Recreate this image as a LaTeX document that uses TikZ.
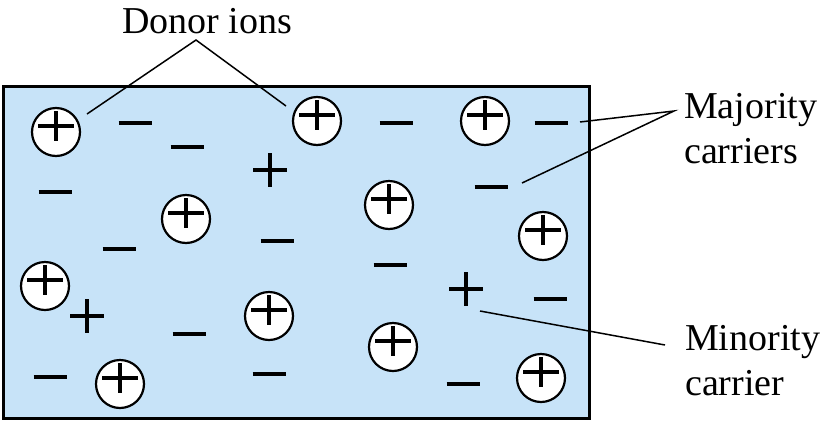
\documentclass[tikz,border=0pt]{standalone}
\usepackage{fontspec}
\setmainfont{Liberation Serif}
\definecolor{boxblue}{RGB}{199,227,248}
\tikzset{
  frame/.style={draw=black, line width=3pt, fill=boxblue},
  leader/.style={draw=black, line width=1.5pt},
  lbl/.style={font=\fontsize{38}{45}\selectfont, inner sep=0pt, align=left},
  neg/.pic={\draw[line width=3.6pt] (-16.5,0) -- (16.5,0);},
  hole/.pic={\draw[line width=3.6pt] (-17,0) -- (17,0) (0,-17) -- (0,17);},
  donor/.pic={\draw[line width=2.2pt, fill=white] (0,0) circle[radius=24];
              \draw[line width=3.4pt] (-18,-6) -- (18,-6) (0,-21) -- (0,9);}
}
\begin{document}
\begin{tikzpicture}[x=1pt,y=-1pt]
\useasboundingbox (0,0) rectangle (827,421);
\draw[frame] (3.5,86) rectangle (589.5,418.5);
% donor ions
\pic at (56,132) {donor};
\pic at (317,121) {donor};
\pic at (485,121) {donor};
\pic at (389,205) {donor};
\pic at (186,219) {donor};
\pic at (45,286) {donor};
\pic at (269,316) {donor};
\pic at (120,384) {donor};
\pic at (393,347) {donor};
\pic at (543,236) {donor};
\pic at (541,378) {donor};
% majority carriers (electrons)
\pic at (135,123) {neg};
\pic at (187,147) {neg};
\pic at (55,192) {neg};
\pic at (396,123) {neg};
\pic at (551,123) {neg};
\pic at (491,187) {neg};
\pic at (119,249) {neg};
\pic at (277,241) {neg};
\pic at (390,265) {neg};
\pic at (189,334) {neg};
\pic at (269,374) {neg};
\pic at (50,377) {neg};
\pic at (550,299) {neg};
\pic at (463,384) {neg};
% minority carriers (holes)
\pic at (270,170) {hole};
\pic at (87,316) {hole};
\pic at (466,289) {hole};
% labels
\node[lbl, anchor=base] (donorlbl) at (207,33) {Donor ions};
\node[lbl, anchor=base west] (majlbl) at (684,163) {Majority\\carriers};
\node[lbl, anchor=base west] (minlbl) at (685,395) {Minority\\carrier};
% leader end points
\coordinate (dapex) at (196,40);
\coordinate (dend1) at (87,114);
\coordinate (dend2) at (286,106);
\coordinate (mapex) at (674,111);
\coordinate (mend1) at (580,122);
\coordinate (mend2) at (522,183);
\coordinate (nstart) at (665,345);
\coordinate (nend) at (480,311);
\draw[leader] (dend1) -- (dapex) -- (dend2);
\draw[leader] (mend1) -- (mapex) -- (mend2);
\draw[leader] (nstart) -- (nend);
\end{tikzpicture}
\end{document}
